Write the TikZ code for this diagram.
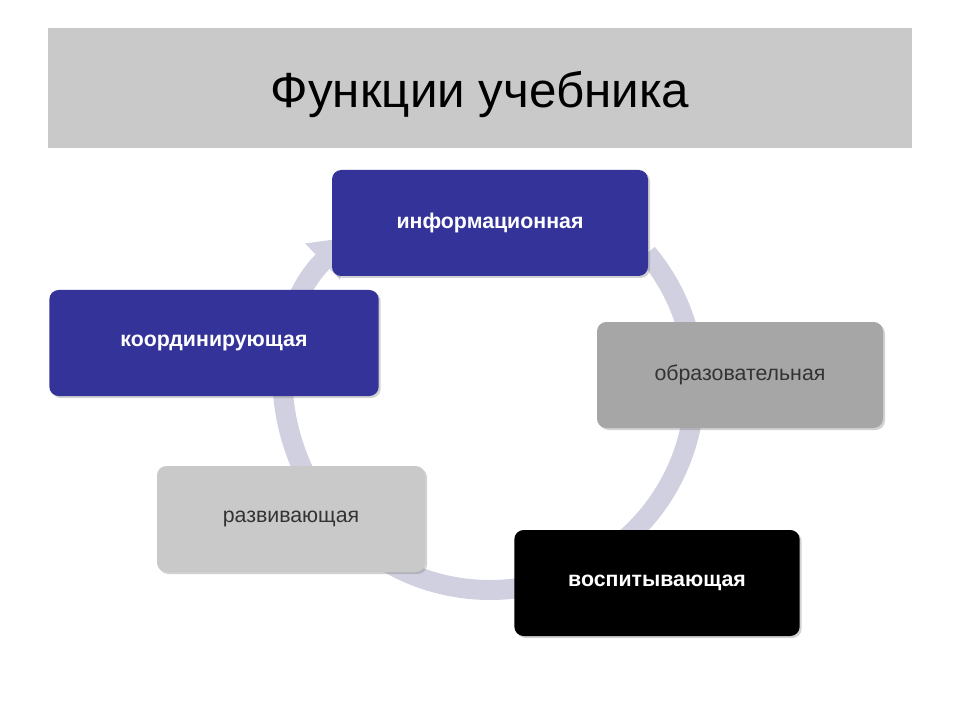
\documentclass[tikz,border=0pt]{standalone}
\usepackage{fontspec}
\setmainfont{Liberation Sans}
\usetikzlibrary{arrows.meta,shadows,calc}
\definecolor{dblue}{HTML}{333399}
\definecolor{ring}{HTML}{D0D0E0}
\begin{document}
\begin{tikzpicture}[x=0.75pt,y=-0.75pt,
 box/.style={rounded corners=7pt,minimum height=79.5pt,inner sep=0pt,font=\fontsize{16}{18}\selectfont,drop shadow={shadow xshift=1.5pt,shadow yshift=-1.5pt,opacity=0.35}},
 dark/.style={box,text=white,font=\fontsize{16}{18}\selectfont\bfseries},
 light/.style={box,text=black!80}]
\useasboundingbox (0,0) rectangle (960,720);
\fill[white] (0,0) rectangle (960,720);
\fill[black!21] (48,28) rectangle (912,148);
\node (title) at (480,95) {\fontsize{37}{42}\selectfont Функции учебника};
\coordinate (c) at (490,385);
\draw[ring,line width=15pt,-{Triangle[length=26pt,width=36pt]}] ($(c)+(-40:205)$) arc[start angle=-40,end angle=226,radius=205];
\node[dark,fill=dblue,minimum width=237pt] (inf) at (490,223) {информационная};
\node[light,fill=black!35,minimum width=214.5pt] (obr) at (740,375) {образовательная};
\node[dark,fill=black,minimum width=214pt] (vos) at (657,583) {воспитывающая};
\node[light,fill=black!21,minimum width=201pt] (raz) at (291,519) {развивающая};
\node[dark,fill=dblue,minimum width=247pt] (koo) at (214,343) {координирующая};
\end{tikzpicture}
\end{document}
